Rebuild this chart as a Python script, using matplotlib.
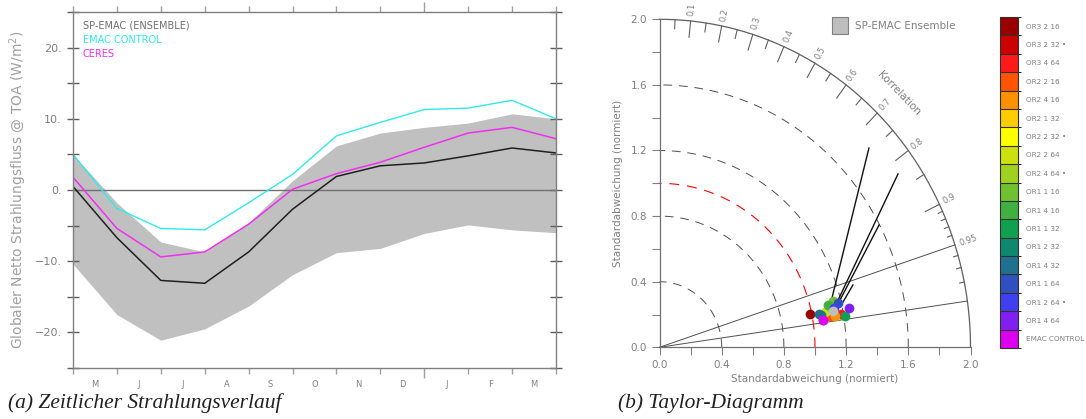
import numpy as np
import matplotlib
matplotlib.use('Agg')
import matplotlib.pyplot as plt
from matplotlib.colors import ListedColormap, BoundaryNorm
from matplotlib.cm import ScalarMappable
from matplotlib.patches import Rectangle

# ---------------- data: left panel ----------------
months = ['M', 'J', 'J', 'A', 'S', 'O', 'N', 'D', 'J', 'F', 'M']
ens_upper = [5.0, -1.8, -7.3, -8.7, -4.6, 1.3, 6.2, 8.0, 8.8, 9.4, 10.7, 10.0]
ens_lower = [-10.4, -17.5, -21.1, -19.5, -16.3, -11.9, -8.8, -8.2, -6.1, -4.9, -5.6, -6.0]
ens_mean = [0.5, -6.7, -12.7, -13.1, -8.7, -2.7, 1.9, 3.4, 3.8, 4.8, 5.9, 5.2]
emac_control = [5.0, -2.6, -5.4, -5.6, -1.8, 2.2, 7.6, 9.5, 11.3, 11.5, 12.6, 10.0]
ceres = [1.8, -5.4, -9.4, -8.7, -4.8, 0.1, 2.3, 3.9, 6.0, 8.0, 8.8, 7.2]

# ---------------- data: Taylor diagram ----------------
member_names = ['OR3 2 16', 'OR3 2 32 •', 'OR3 4 64', 'OR2 2 16', 'OR2 4 16', 'OR2 1 32',
                'OR2 2 32 •', 'OR2 2 64', 'OR2 4 64 •', 'OR1 1 16', 'OR1 4 16', 'OR1 1 32',
                'OR1 2 32', 'OR1 4 32', 'OR1 1 64', 'OR1 2 64 •', 'OR1 4 64', 'EMAC CONTROL']
member_colors = ['#990000', '#CC0000', '#FF1A1A', '#FF5500', '#FF9000', '#FFCC00',
                 '#FFFF00', '#CCE010', '#A0D020', '#70C030', '#40B040', '#10A050',
                 '#108870', '#207090', '#3050C0', '#4040F0', '#8020F0', '#DD00F0']
member_std = [0.987, 1.076, 1.185, 1.113, 1.144, 1.107, 1.165, 1.086, 1.123,
              1.150, 1.113, 1.206, 1.058, 1.046, 1.178, 1.147, 1.240, 1.063]
member_corr = [0.979, 0.983, 0.985, 0.985, 0.986, 0.979, 0.974, 0.980, 0.976,
               0.969, 0.973, 0.987, 0.982, 0.981, 0.973, 0.978, 0.981, 0.988]
ensemble_std = 1.136
ensemble_corr = 0.981
seg_std_start = [1.124, 1.184, 1.196, 1.212]
seg_corr_start = [0.975, 0.970, 0.9706, 0.9737]
seg_std_end = [1.814, 1.863, 1.597, 1.301]
seg_corr_end = [0.7425, 0.8234, 0.8842, 0.9563]
corr_major = [0.1, 0.2, 0.3, 0.4, 0.5, 0.6, 0.7, 0.8, 0.9]
corr_labels = ['0.1', '0.2', '0.3', '0.4', '0.5', '0.6', '0.7', '0.8', '0.9', '0.95']
corr_lines = [0.95, 0.99]
std_arcs = [0.4, 0.8, 1.2, 1.6]

GRAY_TXT = '#808080'
FRAME = '#808080'

fig = plt.figure(figsize=(10.86, 4.19), dpi=100)
plt.rcParams['font.family'] = ['DejaVu Sans']

# ================= left panel =================
W, H = 1086.0, 419.0
ax = fig.add_axes([73 / W, 1 - 368 / H, (556 - 73) / W, (368 - 12) / H])
x = np.arange(len(ens_mean))
ax.fill_between(x, ens_lower, ens_upper, color='#C0C0C0', lw=0)
ax.axhline(0, color='#707070', lw=1.0)
ax.plot(x, emac_control, color='#30EAEA', lw=1.0)
ax.plot(x, ceres, color='#F030F0', lw=1.1)
ax.plot(x, ens_mean, color='#202020', lw=1.1)
ax.set_xlim(0, len(ens_mean) - 1)
ax.set_ylim(-25, 25)
for s in ax.spines.values():
    s.set_color(FRAME)
    s.set_linewidth(1.0)
ax.set_yticks([-20, -10, 0, 10, 20])
ax.set_yticklabels(['−20.', '−10.', '0.', '10.', '20.'])
ax.set_yticks([-25, -15, -5, 5, 15, 25], minor=True)
ax.tick_params(axis='y', which='both', direction='inout', length=8, width=1,
               color='#606060', left=True, right=True, labelsize=8, labelcolor=GRAY_TXT, pad=4)
ax.set_xticks([8])
ax.set_xticks([i for i in x if i != 8], minor=True)
ax.tick_params(axis='x', which='major', direction='out', length=7, width=1, color='#A0A0A0',
               top=True, bottom=True, labelbottom=False)
ax.tick_params(axis='x', which='minor', direction='out', length=4, width=1, color='#A0A0A0',
               top=True, bottom=True, labelbottom=False)
trans = matplotlib.transforms.blended_transform_factory(ax.transData, ax.transAxes)
for i, m in enumerate(months):
    ax.text(i + 0.5, -0.045, m, transform=trans, ha='center', va='center', fontsize=6,
            color=GRAY_TXT)
ax.set_ylabel('Globaler Netto Strahlungsfluss @ TOA (W/m$^2$)', fontsize=10, color='#A0A0A0',
              labelpad=4)
ax.text(0.02, 0.975, 'SP-EMAC (ENSEMBLE)', transform=ax.transAxes, fontsize=7, color='#707070',
        va='top', ha='left')
ax.text(0.02, 0.935, 'EMAC CONTROL', transform=ax.transAxes, fontsize=7, color='#30EAEA',
        va='top', ha='left')
ax.text(0.02, 0.895, 'CERES', transform=ax.transAxes, fontsize=7, color='#F030F0',
        va='top', ha='left')

# ================= Taylor diagram =================
tx = fig.add_axes([659.5 / W, 1 - 347.3 / H, 311 / W, 328 / H])
tx.set_xlim(0, 2.0)
tx.set_ylim(0, 2.0)
tx.patch.set_alpha(0)
for k in ['top', 'right']:
    tx.spines[k].set_visible(False)
for k in ['left', 'bottom']:
    tx.spines[k].set_color('#707070')
    tx.spines[k].set_linewidth(0.9)
tx.set_xticks(np.arange(0, 2.01, 0.4))
tx.set_yticks(np.arange(0, 2.01, 0.4))
tx.set_xticks(np.arange(0.2, 2.0, 0.4), minor=True)
tx.set_yticks(np.arange(0.2, 2.0, 0.4), minor=True)
tx.xaxis.set_major_formatter(matplotlib.ticker.FormatStrFormatter('%.1f'))
tx.yaxis.set_major_formatter(matplotlib.ticker.FormatStrFormatter('%.1f'))
tx.tick_params(which='both', direction='out', length=6, width=0.8, color='#808080',
               labelsize=7.5, labelcolor=GRAY_TXT, pad=3)
tx.set_xlabel('Standardabweichung (normiert)', fontsize=7.5, color=GRAY_TXT, labelpad=3)
tx.set_ylabel('Standardabweichung (normiert)', fontsize=7.5, color=GRAY_TXT, labelpad=5)

th = np.linspace(0, np.pi / 2, 400)
tx.plot(2.0 * np.cos(th), 2.0 * np.sin(th), color='#606060', lw=0.9, clip_on=False)
for r in std_arcs:
    tx.plot(r * np.cos(th), r * np.sin(th), color='#505050', lw=0.7,
            dashes=(9, 7), clip_on=False)
tx.plot(1.0 * np.cos(th), 1.0 * np.sin(th), color='#FF0000', lw=0.8, dashes=(9, 7),
        clip_on=False)
for c in corr_lines:
    a = np.arccos(c)
    tx.plot([0, 2.0 * np.cos(a)], [0, 2.0 * np.sin(a)], color='#505050', lw=0.7, clip_on=False)

# correlation ticks
def arc_tick(c, length):
    a = np.arccos(c)
    tx.plot([2.0 * np.cos(a), (2.0 - length) * np.cos(a)],
            [2.0 * np.sin(a), (2.0 - length) * np.sin(a)], color='#606060', lw=0.8,
            clip_on=False)

for c in corr_major:
    arc_tick(c, 0.10)
for c in np.arange(0.05, 0.9, 0.1):
    arc_tick(c, 0.055)
for c in [0.91, 0.92, 0.93, 0.94, 0.96, 0.97, 0.98]:
    arc_tick(c, 0.03)

fig.canvas.draw()
o = tx.transData.transform((0, 0))
for c, lab in zip(corr_major + [0.95], corr_labels):
    a = np.arccos(c)
    p = tx.transData.transform((np.cos(a), np.sin(a)))
    ang = np.degrees(np.arctan2(p[1] - o[1], p[0] - o[0]))
    tx.text(2.03 * np.cos(a), 2.03 * np.sin(a), lab, rotation=ang, rotation_mode='anchor',
            ha='left', va='center', fontsize=6, color=GRAY_TXT, clip_on=False)
fig.text(899 / W, 1 - 93 / H, 'Korrelation', rotation=-46, ha='center', va='center',
         fontsize=7.5, color=GRAY_TXT)

# black segments
for s0, c0, s1, c1 in zip(seg_std_start, seg_corr_start, seg_std_end, seg_corr_end):
    tx.plot([s0 * c0, s1 * c1], [s0 * np.sqrt(1 - c0 ** 2), s1 * np.sqrt(1 - c1 ** 2)],
            color='#101010', lw=1.0, clip_on=False)

# member points
for s, c, col in zip(member_std, member_corr, member_colors):
    tx.plot(s * c, s * np.sqrt(1 - c ** 2), 'o', ms=7, color=col, mec='none', zorder=5)
tx.plot(ensemble_std * ensemble_corr, ensemble_std * np.sqrt(1 - ensemble_corr ** 2), 'o',
        ms=7, color='#BEBEBE', mec='none', zorder=6)
tx.plot(member_std[-1] * member_corr[-1], member_std[-1] * np.sqrt(1 - member_corr[-1] ** 2),
        'o', ms=7, color=member_colors[-1], mec='none', zorder=7)

# legend box
fig.patches.append(Rectangle((832 / W, 1 - 34 / H), 16 / W, 17 / H, transform=fig.transFigure,
                             facecolor='#BEBEBE', edgecolor='#808080', lw=0.8))
fig.text(855 / W, 1 - 26 / H, 'SP-EMAC Ensemble', fontsize=7.5, color=GRAY_TXT,
         ha='left', va='center')

# ================= colorbar =================
n = len(member_colors)
cax = fig.add_axes([1000 / W, 1 - 348 / H, 18 / W, 331 / H])
cmap = ListedColormap(member_colors[::-1])
norm = BoundaryNorm(np.arange(n + 1), n)
cb = fig.colorbar(ScalarMappable(norm=norm, cmap=cmap), cax=cax, drawedges=True)
cb.outline.set_color('#303030')
cb.outline.set_linewidth(0.8)
cb.dividers.set_color('#303030')
cb.dividers.set_linewidth(0.8)
cb.set_ticks(np.arange(n) + 0.5)
cb.set_ticklabels(member_names[::-1])
cax.tick_params(length=0, labelsize=5.2, labelcolor=GRAY_TXT, pad=6)

# ================= captions =================
fig.text(8 / W, 1 - 403 / H, '(a) Zeitlicher Strahlungsverlauf', fontsize=15.5,
         family='Liberation Serif', style='italic', ha='left', va='center', color='#202020')
fig.text(618 / W, 1 - 403 / H, '(b) Taylor-Diagramm', fontsize=15.5,
         family='Liberation Serif', style='italic', ha='left', va='center', color='#202020')

fig.savefig('out.png', dpi=100)
